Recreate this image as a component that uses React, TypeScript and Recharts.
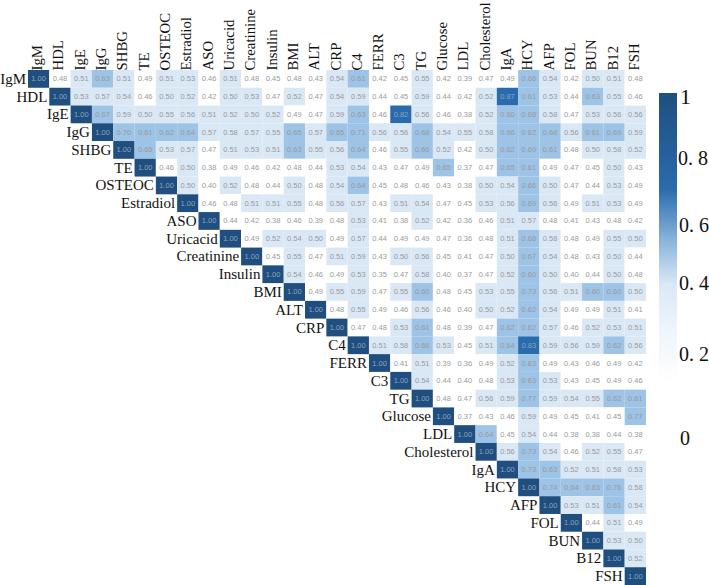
import React from 'react';
import { ScatterChart, Scatter, XAxis, YAxis } from 'recharts';

const labels = ['IgM', 'HDL', 'IgE', 'IgG', 'SHBG', 'TE', 'OSTEOC', 'Estradiol', 'ASO', 'Uricacid', 'Creatinine', 'Insulin', 'BMI', 'ALT', 'CRP', 'C4', 'FERR', 'C3', 'TG', 'Glucose', 'LDL', 'Cholesterol', 'IgA', 'HCY', 'AFP', 'FOL', 'BUN', 'B12', 'FSH'];

// upper triangle, each row starts at the diagonal
const rows: number[][] = [
  [1.0, 0.48, 0.51, 0.63, 0.51, 0.49, 0.51, 0.53, 0.46, 0.51, 0.48, 0.45, 0.48, 0.43, 0.54, 0.61, 0.42, 0.45, 0.55, 0.42, 0.39, 0.47, 0.49, 0.66, 0.54, 0.42, 0.5, 0.51, 0.48],
  [1.0, 0.53, 0.57, 0.54, 0.46, 0.5, 0.52, 0.42, 0.5, 0.53, 0.47, 0.52, 0.47, 0.54, 0.59, 0.44, 0.45, 0.59, 0.44, 0.42, 0.52, 0.87, 0.61, 0.53, 0.44, 0.63, 0.55, 0.46],
  [1.0, 0.67, 0.59, 0.5, 0.55, 0.56, 0.51, 0.52, 0.5, 0.52, 0.49, 0.47, 0.59, 0.63, 0.46, 0.82, 0.56, 0.46, 0.38, 0.52, 0.6, 0.68, 0.58, 0.47, 0.53, 0.56, 0.56],
  [1.0, 0.7, 0.61, 0.62, 0.64, 0.57, 0.58, 0.57, 0.55, 0.65, 0.57, 0.65, 0.71, 0.56, 0.56, 0.68, 0.54, 0.55, 0.58, 0.66, 0.62, 0.68, 0.56, 0.61, 0.69, 0.59],
  [1.0, 0.65, 0.53, 0.57, 0.47, 0.51, 0.53, 0.51, 0.63, 0.55, 0.56, 0.64, 0.46, 0.55, 0.66, 0.52, 0.42, 0.5, 0.62, 0.69, 0.61, 0.48, 0.5, 0.58, 0.52],
  [1.0, 0.46, 0.5, 0.38, 0.49, 0.46, 0.42, 0.48, 0.44, 0.53, 0.54, 0.43, 0.47, 0.49, 0.65, 0.37, 0.47, 0.65, 0.61, 0.49, 0.47, 0.45, 0.5, 0.43],
  [1.0, 0.5, 0.4, 0.52, 0.48, 0.44, 0.5, 0.48, 0.54, 0.64, 0.45, 0.48, 0.46, 0.43, 0.38, 0.5, 0.54, 0.66, 0.5, 0.47, 0.44, 0.53, 0.49],
  [1.0, 0.46, 0.48, 0.51, 0.51, 0.55, 0.48, 0.56, 0.57, 0.43, 0.51, 0.54, 0.47, 0.45, 0.53, 0.56, 0.69, 0.56, 0.49, 0.51, 0.53, 0.49],
  [1.0, 0.44, 0.42, 0.38, 0.46, 0.39, 0.48, 0.53, 0.41, 0.38, 0.52, 0.42, 0.36, 0.46, 0.51, 0.57, 0.48, 0.41, 0.43, 0.48, 0.42],
  [1.0, 0.49, 0.52, 0.54, 0.5, 0.49, 0.57, 0.44, 0.49, 0.49, 0.47, 0.36, 0.48, 0.51, 0.68, 0.58, 0.48, 0.49, 0.55, 0.5],
  [1.0, 0.45, 0.55, 0.47, 0.51, 0.59, 0.43, 0.5, 0.56, 0.45, 0.41, 0.47, 0.5, 0.67, 0.54, 0.48, 0.43, 0.5, 0.44],
  [1.0, 0.54, 0.46, 0.49, 0.53, 0.35, 0.47, 0.58, 0.4, 0.37, 0.47, 0.52, 0.6, 0.5, 0.4, 0.44, 0.5, 0.48],
  [1.0, 0.49, 0.55, 0.59, 0.47, 0.55, 0.6, 0.48, 0.45, 0.53, 0.55, 0.73, 0.56, 0.51, 0.6, 0.6, 0.5],
  [1.0, 0.48, 0.55, 0.49, 0.46, 0.56, 0.46, 0.4, 0.5, 0.52, 0.62, 0.54, 0.49, 0.49, 0.51, 0.41],
  [1.0, 0.47, 0.48, 0.53, 0.61, 0.48, 0.39, 0.47, 0.62, 0.62, 0.57, 0.46, 0.52, 0.53, 0.51],
  [1.0, 0.51, 0.58, 0.66, 0.53, 0.45, 0.51, 0.64, 0.83, 0.59, 0.56, 0.59, 0.62, 0.56],
  [1.0, 0.41, 0.51, 0.39, 0.36, 0.49, 0.52, 0.63, 0.49, 0.43, 0.46, 0.49, 0.42],
  [1.0, 0.54, 0.44, 0.4, 0.48, 0.53, 0.63, 0.53, 0.43, 0.45, 0.49, 0.46],
  [1.0, 0.48, 0.47, 0.56, 0.59, 0.77, 0.59, 0.54, 0.55, 0.62, 0.61],
  [1.0, 0.37, 0.43, 0.46, 0.59, 0.49, 0.45, 0.41, 0.45, 0.77],
  [1.0, 0.64, 0.45, 0.54, 0.44, 0.38, 0.38, 0.44, 0.38],
  [1.0, 0.56, 0.73, 0.54, 0.46, 0.52, 0.55, 0.47],
  [1.0, 0.73, 0.63, 0.52, 0.51, 0.58, 0.53],
  [1.0, 0.74, 0.64, 0.63, 0.76, 0.58],
  [1.0, 0.53, 0.51, 0.61, 0.54],
  [1.0, 0.44, 0.51, 0.49],
  [1.0, 0.53, 0.5],
  [1.0, 0.52],
  [1.0],
];

const cells = rows.flatMap((row, r) => row.map((value, i) => ({ col: r + i + 0.5, row: r + 0.5, value, diag: i === 0, name: labels[r] })));
const positions = labels.map((_, i) => i + 0.5);

const WIDTH = 709;
const HEIGHT = 585;
const LEFT = 28;
const RIGHT = 63;
const TOP = 69;
const BOTTOM = 0;
const CELL_W = (WIDTH - LEFT - RIGHT) / labels.length;
const CELL_H = (HEIGHT - TOP - 1 - BOTTOM) / labels.length;
const SERIF = '"Liberation Serif", serif';

const cellColor = (v: number) => {
  if (v >= 1) return '#1f4e7f';
  if (v >= 0.8) return '#2a6bad';
  if (v >= 0.6) return '#9dc3e6';
  if (v >= 0.5) return '#dae8f6';
  return '#ffffff';
};

const HeatCell = (props: any) => {
  const { cx, cy, payload } = props;
  return (
    <g>
      <rect x={cx - CELL_W / 2} y={cy - CELL_H / 2} width={CELL_W} height={CELL_H} fill={cellColor(payload.value)} />
      <text x={cx} y={cy + 2.5} textAnchor="middle" fontSize={7.5} fontFamily='"Liberation Sans", sans-serif' fill={payload.value >= 0.8 ? '#8ba4bf' : '#9a9a9a'}>
        {payload.value.toFixed(2)}
      </text>
      {payload.diag && (
        <text x={cx - CELL_W / 2 - 2} y={cy + 5} textAnchor="end" fontSize={15} fontFamily={SERIF} fill="#111">
          {payload.name}
        </text>
      )}
    </g>
  );
};

const ColumnTick = (props: any) => {
  const { x, y, index } = props;
  return (
    <text transform={`translate(${x + 3.5},${y + 0.5}) rotate(-90)`} fontSize={14.8} fontFamily={SERIF} fill="#111">
      {labels[index]}
    </text>
  );
};

const App: React.FC = () => (
  <div style={{ position: 'absolute', left: 0, top: 0 }}>
    <ScatterChart width={WIDTH} height={HEIGHT} margin={{ top: TOP, right: RIGHT, bottom: BOTTOM, left: LEFT }}>
      <defs>
        <linearGradient id="scaleFill" x1="0" y1="0" x2="0" y2="1">
          <stop offset="0" stopColor="#1f4e7f" />
          <stop offset="0.33" stopColor="#2a6bad" />
          <stop offset="0.52" stopColor="#8fb8de" />
          <stop offset="0.66" stopColor="#dae8f6" />
          <stop offset="0.82" stopColor="#eef5fb" />
          <stop offset="1" stopColor="#ffffff" />
        </linearGradient>
      </defs>
      <XAxis type="number" dataKey="col" orientation="top" domain={[0, labels.length]} ticks={positions} interval={0} height={1} axisLine={false} tickLine={false} tickSize={0} tickMargin={0} tick={<ColumnTick />} />
      <YAxis type="number" dataKey="row" reversed domain={[0, labels.length]} ticks={positions} width={0} axisLine={false} tickLine={false} tick={false} />
      <Scatter data={cells} shape={<HeatCell />} isAnimationActive={false} />
      <rect x={659} y={93} width={18} height={290} fill="url(#scaleFill)" />
      <text x={680} y={104} fontSize={22} fontFamily={SERIF} fill="#111">1</text>
      <text x={678} y={165} fontSize={20} fontFamily={SERIF} fill="#111">0. 8</text>
      <text x={679} y={232} fontSize={20} fontFamily={SERIF} fill="#111">0. 6</text>
      <text x={679} y={290} fontSize={20} fontFamily={SERIF} fill="#111">0. 4</text>
      <text x={679} y={361} fontSize={20} fontFamily={SERIF} fill="#111">0. 2</text>
      <text x={680} y={445} fontSize={20} fontFamily={SERIF} fill="#111">0</text>
    </ScatterChart>
  </div>
);

export default App;
